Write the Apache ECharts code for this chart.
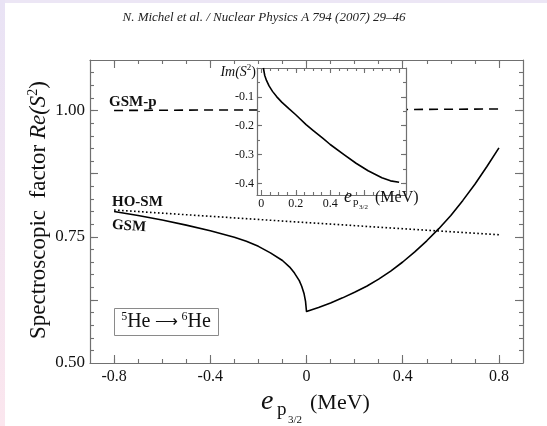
<!DOCTYPE html>
<html>
<head>
<meta charset="utf-8">
<script src="https://cdn.jsdelivr.net/npm/echarts@6/dist/echarts.min.js"></script>
<style>
  html, body { margin: 0; padding: 0; background: #ffffff; }
  #chart { width: 547px; height: 426px; }
</style>
</head>
<body>
<div id="chart"></div>
<script>
// Spectroscopic factor of 5He -> 6He versus the p3/2 single-particle energy

// GSM curve: real part of S^2
const gsmEnergy = [-0.8, -0.7, -0.6, -0.5, -0.4, -0.3, -0.25, -0.2, -0.15, -0.1, -0.07, -0.05, -0.03, -0.02, -0.01, -0.004, 0,
                   0.05, 0.1, 0.15, 0.2, 0.25, 0.3, 0.35, 0.4, 0.45, 0.5, 0.55, 0.6, 0.65, 0.7, 0.75, 0.8];
const gsmReS2 =   [0.800, 0.792, 0.783, 0.773, 0.762, 0.749, 0.741, 0.731, 0.718, 0.703, 0.690, 0.678, 0.663, 0.652, 0.637, 0.622, 0.602,
                   0.610, 0.619, 0.629, 0.640, 0.652, 0.666, 0.682, 0.700, 0.720, 0.742, 0.766, 0.792, 0.822, 0.854, 0.889, 0.926];

// GSM with the pole space only (GSM-p)
const gsmpEnergy = [-0.8, -0.4, 0, 0.4, 0.8];
const gsmpReS2 =   [1.000, 1.001, 1.001, 1.002, 1.003];

// Harmonic-oscillator shell model (HO-SM)
const hosmEnergy = [-0.8, 0, 0.8];
const hosmS2 =     [0.803, 0.778, 0.754];

// Imaginary part of S^2 (inset)
const imEnergy = [0.012, 0.02, 0.03, 0.045, 0.065, 0.09, 0.12, 0.16, 0.2, 0.26, 0.3, 0.36, 0.4, 0.48, 0.55, 0.62, 0.7, 0.75, 0.8];
const imS2 =     [0.0, -0.026, -0.043, -0.062, -0.081, -0.100, -0.119, -0.141, -0.162, -0.196, -0.216, -0.245, -0.265, -0.30, -0.33, -0.356, -0.38, -0.391, -0.396];

// Tick labels
const xTickLabels = [-0.8, -0.4, 0, 0.4, 0.8];
const yTickLabels = [0.5, 0.75, 1.0];
const insetXTickLabels = [0, 0.2, 0.4];
const insetYTickLabels = [-0.1, -0.2, -0.3, -0.4];

// Tick positions
function steps(from, to, step) {
  const out = [];
  const n = Math.round((to - from) / step);
  for (let i = 0; i <= n; i++) out.push(+(from + i * step).toFixed(4));
  return out;
}
const xMinorTicks = steps(-0.8, 0.8, 0.1);
const xMajorTicks = [-0.8, -0.4, 0, 0.4, 0.8];
const yMinorTicks = steps(0.525, 1.075, 0.025);
const yMajorTicks = [0.625, 0.75, 0.875, 1.0];
const insetXMinorTicks = steps(0.05, 0.8, 0.05);
const insetXMajorTicks = [0, 0.2, 0.4, 0.6, 0.8];
const insetYMinorTicks = steps(-0.4, -0.05, 0.05);
const insetYMajorTicks = [-0.4, -0.3, -0.2, -0.1];

const FRAME = '#707070';
const INK = '#111111';
const SERIF = '"Liberation Serif", "Times New Roman", serif';

const zip = (xs, ys) => xs.map((x, i) => [x, ys[i]]);

function frameAxis(o) {
  return {
    type: 'value',
    gridIndex: o.grid,
    position: o.position,
    min: o.min,
    max: o.max,
    z: o.z || 0,
    axisLine: { show: !!o.line, onZero: false, lineStyle: { color: FRAME, width: 1.2 } },
    axisTick: { show: true, inside: true, length: o.len, customValues: o.ticks,
                lineStyle: { color: FRAME, width: 1.1 } },
    axisLabel: o.labels ? {
      show: true, customValues: o.labels, formatter: o.fmt,
      fontFamily: SERIF, fontSize: o.fontSize, color: INK, margin: o.margin
    } : { show: false },
    splitLine: { show: false },
    minorTick: { show: false }
  };
}

const fmtMainX = v => (v === 0 ? '0' : v.toFixed(1));
const fmtMainY = v => v.toFixed(2);
const fmtInset = v => (v === 0 ? '0' : v.toFixed(1));

const MAIN_X = [-0.9, 0.9], MAIN_Y = [0.5, 1.1];
const INSET_X = [-0.025, 0.84], INSET_Y = [-0.44, 0];

const xAxes = [
  frameAxis({ grid: 0, position: 'bottom', min: MAIN_X[0], max: MAIN_X[1], line: true, ticks: xMinorTicks, len: 4,
              labels: xTickLabels, fmt: fmtMainX, fontSize: 16, margin: 6 }),
  frameAxis({ grid: 0, position: 'bottom', min: MAIN_X[0], max: MAIN_X[1], ticks: xMajorTicks, len: 8 }),
  frameAxis({ grid: 0, position: 'top', min: MAIN_X[0], max: MAIN_X[1], line: true, ticks: xMinorTicks, len: 4 }),
  frameAxis({ grid: 0, position: 'top', min: MAIN_X[0], max: MAIN_X[1], ticks: xMajorTicks, len: 8 }),
  frameAxis({ grid: 1, position: 'bottom', min: INSET_X[0], max: INSET_X[1], line: true, ticks: insetXMinorTicks, len: 3, z: 4,
              labels: insetXTickLabels, fmt: fmtInset, fontSize: 12, margin: 3 }),
  frameAxis({ grid: 1, position: 'bottom', min: INSET_X[0], max: INSET_X[1], ticks: insetXMajorTicks, len: 5, z: 4 }),
  frameAxis({ grid: 1, position: 'top', min: INSET_X[0], max: INSET_X[1], line: true, ticks: insetXMinorTicks, len: 3, z: 4 }),
  frameAxis({ grid: 1, position: 'top', min: INSET_X[0], max: INSET_X[1], ticks: insetXMajorTicks, len: 5, z: 4 })
];

const yAxes = [
  frameAxis({ grid: 0, position: 'left', min: MAIN_Y[0], max: MAIN_Y[1], line: true, ticks: yMinorTicks, len: 4,
              labels: yTickLabels, fmt: fmtMainY, fontSize: 17, margin: 5 }),
  frameAxis({ grid: 0, position: 'left', min: MAIN_Y[0], max: MAIN_Y[1], ticks: yMajorTicks, len: 8 }),
  frameAxis({ grid: 0, position: 'right', min: MAIN_Y[0], max: MAIN_Y[1], line: true, ticks: yMinorTicks, len: 4 }),
  frameAxis({ grid: 0, position: 'right', min: MAIN_Y[0], max: MAIN_Y[1], ticks: yMajorTicks, len: 8 }),
  frameAxis({ grid: 1, position: 'left', min: INSET_Y[0], max: INSET_Y[1], line: true, ticks: insetYMinorTicks, len: 3, z: 4,
              labels: insetYTickLabels, fmt: fmtInset, fontSize: 12, margin: 3 }),
  frameAxis({ grid: 1, position: 'left', min: INSET_Y[0], max: INSET_Y[1], ticks: insetYMajorTicks, len: 5, z: 4 }),
  frameAxis({ grid: 1, position: 'right', min: INSET_Y[0], max: INSET_Y[1], line: true, ticks: insetYMinorTicks, len: 3, z: 4 }),
  frameAxis({ grid: 1, position: 'right', min: INSET_Y[0], max: INSET_Y[1], ticks: insetYMajorTicks, len: 5, z: 4 })
];

const curve = (name, xs, ys, dash, axis, z) => ({
  name, type: 'line', data: zip(xs, ys),
  xAxisIndex: axis, yAxisIndex: axis, z: z,
  showSymbol: false, symbol: 'none', smooth: false, clip: true, silent: true,
  lineStyle: { color: '#000', width: 1.6, type: dash, cap: 'butt', join: 'round' }
});

// text placed by its baseline (Liberation Serif descent is about 0.216 em)
const txt = (x, baseline, text, size, style) => ({
  type: 'text', x, y: baseline + 0.216 * size, silent: true, z: 20,
  style: Object.assign({ text, fill: INK, font: size + 'px ' + SERIF, verticalAlign: 'bottom' }, style)
});

const chart = echarts.init(document.getElementById('chart'), null, { renderer: 'canvas' });

chart.setOption({
  backgroundColor: '#ffffff',
  animation: false,
  grid: [
    { left: 90, top: 60, width: 433, height: 303, containLabel: false },
    { left: 257, top: 68, width: 149, height: 127, containLabel: false,
      show: true, backgroundColor: '#ffffff', borderWidth: 0, z: 3 }
  ],
  xAxis: xAxes,
  yAxis: yAxes,
  series: [
    curve('GSM-p', gsmpEnergy, gsmpReS2, [9, 6], 0, 2),
    curve('HO-SM', hosmEnergy, hosmS2, [1.6, 2.4], 0, 2),
    curve('GSM', gsmEnergy, gsmReS2, 'solid', 0, 2),
    curve('Im', imEnergy, imS2, 'solid', 4, 5)
  ],
  graphic: [
    // page edge tint
    { type: 'rect', shape: { x: 0, y: 0, width: 547, height: 3 }, style: { fill: '#ece6f5' }, silent: true, z: 0 },
    { type: 'rect', shape: { x: 0, y: 0, width: 5, height: 426 }, silent: true, z: 0,
      style: { fill: new echarts.graphic.LinearGradient(0, 0, 0, 1, [
        { offset: 0, color: '#e9e3f5' }, { offset: 1, color: '#fbe6ee' }]) } },

    // running header
    txt(264, 21, 'N. Michel et al. / Nuclear Physics A 794 (2007) 29\u201346', 13,
        { font: 'italic 13px ' + SERIF, fill: '#222', align: 'center' }),

    // curve labels
    txt(109, 106, 'GSM-p', 15, { font: 'bold 15px ' + SERIF }),
    txt(112, 206, 'HO-SM', 15, { font: 'bold 15px ' + SERIF }),
    { type: 'text', x: 112, y: 225, rotation: -0.07, silent: true, z: 20,
      style: { text: 'GSM', font: 'bold 15px ' + SERIF, fill: INK, verticalAlign: 'middle' } },

    // reaction box
    { type: 'rect', shape: { x: 114.5, y: 308.5, width: 104, height: 27 }, silent: true, z: 20,
      style: { fill: '#fff', stroke: '#8a8a8a', lineWidth: 1 } },
    { type: 'text', x: 166, y: 322, silent: true, z: 21,
      style: {
        text: '{s|5}{t|He}{a| \u27F6 }{s|6}{t|He}', align: 'center', verticalAlign: 'middle', fill: INK,
        rich: {
          s: { fontFamily: SERIF, fontSize: 12, verticalAlign: 'top', lineHeight: 22, fill: INK },
          t: { fontFamily: SERIF, fontSize: 20, lineHeight: 22, fill: INK },
          a: { fontFamily: SERIF, fontSize: 16, lineHeight: 22, fill: INK }
        }
      } },

    // main x title
    txt(261, 410, 'e', 28, { font: 'italic 28px ' + SERIF }),
    txt(277, 415, 'p', 19),
    txt(288, 423, '3/2', 11),
    txt(310, 409, '(MeV)', 22),

    // main y title (rotated)
    { type: 'text', x: 39, y: 210, rotation: Math.PI / 2, silent: true, z: 20,
      style: {
        text: '{r|Spectroscopic  factor }{i|Re(S}{u|2}{r|)}', align: 'center', verticalAlign: 'middle', fill: INK,
        rich: {
          r: { fontFamily: SERIF, fontSize: 23, lineHeight: 26, fill: INK },
          i: { fontFamily: SERIF, fontStyle: 'italic', fontSize: 23, lineHeight: 26, fill: INK },
          u: { fontFamily: SERIF, fontSize: 14, verticalAlign: 'top', lineHeight: 26, fill: INK }
        }
      } },

    // inset titles
    { type: 'text', x: 256, y: 72, silent: true, z: 20,
      style: {
        text: '{i|Im(S}{u|2}{r|)}', align: 'right', verticalAlign: 'middle', fill: INK,
        rich: {
          i: { fontFamily: SERIF, fontStyle: 'italic', fontSize: 14, lineHeight: 17, fill: INK },
          u: { fontFamily: SERIF, fontSize: 9, verticalAlign: 'top', lineHeight: 17, fill: INK },
          r: { fontFamily: SERIF, fontSize: 14, lineHeight: 17, fill: INK }
        }
      } },
    txt(344, 202, 'e', 18, { font: 'italic 18px ' + SERIF }),
    txt(353, 205, 'p', 11),
    txt(359, 209, '3/2', 7),
    txt(375, 202, '(MeV)', 16)
  ]
});
</script>
</body>
</html>
